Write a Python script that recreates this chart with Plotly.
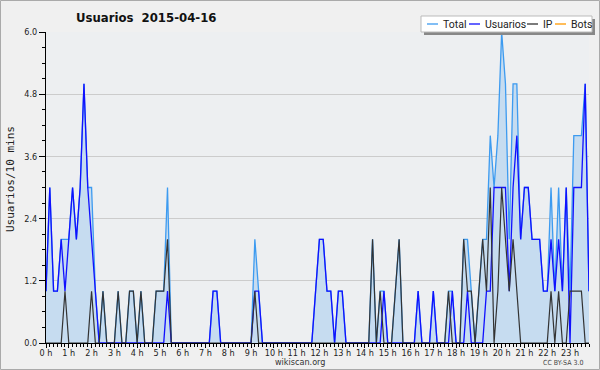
import plotly.graph_objects as go

# ---- data (one value per 10 minutes, 144 slots) ----
total = [1,3,1,1,2,2,2,3,2,3,5,3,3,1,0,1,0,0,0,1,0,0,1,1,0,1,0,0,0,1,1,1,3,0,0,0,
         0,0,0,0,0,0,0,0,1,1,0,0,0,0,0,0,0,0,0,2,1,0,0,0,0,0,0,0,0,0,0,0,0,0,0,1,
         2,2,1,1,0,1,1,0,0,0,0,0,0,0,2,0,1,1,0,0,1,2,0,0,0,0,1,0,0,0,1,0,0,0,1,1,
         0,0,2,2,1,0,1,2,2,4,3,4,6,5,2,5,5,2,3,3,2,2,2,1,1,3,1,3,1,3,1,4,4,4,5,1]
usuarios = [1,3,1,1,2,1,2,3,2,3,5,3,2,1,0,0,0,0,0,0,0,0,0,0,0,0,0,0,0,0,0,0,1,0,0,0,
            0,0,0,0,0,0,0,0,1,1,0,0,0,0,0,0,0,0,0,1,1,0,0,0,0,0,0,0,0,0,0,0,0,0,0,1,
            2,2,1,1,0,1,1,0,0,0,0,0,0,0,0,0,0,1,0,0,0,0,0,0,0,0,1,0,0,0,1,0,0,0,0,1,
            0,0,0,1,0,0,0,0,1,1,3,3,3,3,1,3,4,2,3,3,2,2,2,1,1,2,1,2,1,3,0,3,3,3,5,1]
ip = [0,0,0,0,0,1,0,0,0,0,0,0,1,0,0,1,0,0,0,1,0,0,1,1,0,1,0,0,0,1,1,1,2,0,0,0,
      0,0,0,0,0,0,0,0,0,0,0,0,0,0,0,0,0,0,0,1,0,0,0,0,0,0,0,0,0,0,0,0,0,0,0,0,
      0,0,0,0,0,0,0,0,0,0,0,0,0,0,2,0,1,0,0,0,1,2,0,0,0,0,0,0,0,0,0,0,0,0,1,0,
      0,0,2,1,1,0,1,2,1,3,0,1,3,2,1,2,1,0,0,0,0,0,0,0,0,1,0,1,0,0,1,1,1,1,0,0]
bots = [0] * 144
hours = [i / 6 for i in range(len(total))]
hour_ticks = list(range(24))
hour_labels = [f"{h} h" for h in hour_ticks]

W_FIG, H_FIG = 600, 370
L, R, T, B = 46, 11, 32, 27
PW, PH = W_FIG - L - R, H_FIG - T - B

def px(x):
    return (x - L) / PW

def py(y):
    return (H_FIG - B - y) / PH

COND = "DejaVu Sans Condensed, Liberation Sans Narrow, DejaVu Sans"

fig = go.Figure()
fig.add_trace(go.Scatter(x=hours, y=bots, mode="lines", name="Bots",
                         line=dict(color="#ff9900", width=1.2), showlegend=False))
fig.add_trace(go.Scatter(x=hours, y=total, mode="lines", name="Total", fill="tozeroy",
                         fillcolor="#c6dcf0", line=dict(color="#3d9bf0", width=1.3),
                         showlegend=False))
fig.add_trace(go.Scatter(x=hours, y=usuarios, mode="lines", name="Usuarios",
                         line=dict(color="#1010ff", width=1.3), showlegend=False))
fig.add_trace(go.Scatter(x=hours, y=ip, mode="lines", name="IP",
                         line=dict(color="#333333", width=1.2), showlegend=False))

fig.update_xaxes(range=[0, 143 / 6], tickvals=hour_ticks, ticktext=hour_labels,
                 showgrid=False, zeroline=False, showline=True, linecolor="black",
                 linewidth=1, ticks="outside", ticklen=4, tickcolor="black",
                 ticklabelstandoff=-3,
                 minor=dict(dtick=1 / 6, ticks="outside", ticklen=3, tickcolor="black"),
                 tickfont=dict(family=COND, size=9, color="#222"), layer="above traces")
fig.update_yaxes(range=[0, 6], tickvals=[0, 1.2, 2.4, 3.6, 4.8, 6.0],
                 ticktext=["0.0", "1.2", "2.4", "3.6", "4.8", "6.0"],
                 showgrid=True, gridcolor="#cccccc", gridwidth=1, zeroline=False,
                 showline=True, linecolor="black", linewidth=1, ticks="outside",
                 ticklen=6, tickcolor="black",
                 minor=dict(dtick=0.3, ticks="outside", ticklen=3, tickcolor="black",
                            showgrid=False),
                 tickfont=dict(family=COND, size=9, color="#222"), layer="above traces")

shapes = [
    dict(type="rect", xref="paper", yref="paper", x0=px(0.5), x1=px(599.5),
         y0=py(0.5), y1=py(369.5), line=dict(color="#aaaaaa", width=1), layer="below"),
    # legend box with shadow
    dict(type="rect", xref="paper", yref="paper", x0=px(424), x1=px(595),
         y0=py(19), y1=py(35), fillcolor="#888888", line=dict(width=0)),
    dict(type="rect", xref="paper", yref="paper", x0=px(421), x1=px(592),
         y0=py(16), y1=py(32), fillcolor="white", line=dict(color="#bbbbbb", width=1)),
]
legend_items = [("Total", "#3d9bf0", 427, 441), ("Usuarios", "#1010ff", 469, 483),
                ("IP", "#333333", 527, 541), ("Bots", "#ff9900", 555, 569)]
annotations = []
for name, col, lx, tx in legend_items:
    shapes.append(dict(type="line", xref="paper", yref="paper", x0=px(lx), x1=px(lx + 11),
                       y0=py(24), y1=py(24), line=dict(color=col, width=1.3)))
    annotations.append(dict(text=name, xref="paper", yref="paper", x=px(tx), y=py(24),
                            xanchor="left", yanchor="middle", showarrow=False,
                            font=dict(family="Roboto", size=10.5, color="#222")))

annotations += [
    dict(text="Usuarios\u00a0 2015-04-16", xref="paper", yref="paper", x=px(146), y=py(17),
         xanchor="center", yanchor="middle", showarrow=False,
         font=dict(family=COND, size=13, color="#111", weight="bold")),
    dict(text="Usuarios/10 mins", xref="paper", yref="paper", x=px(10), y=py(179),
         xanchor="center", yanchor="middle", textangle=-90, showarrow=False,
         font=dict(family="DejaVu Sans Mono", size=11, color="#222")),
    dict(text="wikiscan.org", xref="paper", yref="paper", x=px(300), y=py(362),
         xanchor="center", yanchor="middle", showarrow=False,
         font=dict(family=COND, size=9, color="#333")),
    dict(text="CC BY-SA 3.0", xref="paper", yref="paper", x=px(563), y=py(363),
         xanchor="center", yanchor="middle", showarrow=False,
         font=dict(family=COND, size=7, color="#444")),
]

fig.update_layout(width=W_FIG, height=H_FIG, margin=dict(l=L, r=R, t=T, b=B),
                  paper_bgcolor="#f0f0f0", plot_bgcolor="#edeff1",
                  shapes=shapes, annotations=annotations, showlegend=False)
fig.write_html("out.html", config={"displayModeBar": False},
               post_script="document.body.style.margin='0';")
